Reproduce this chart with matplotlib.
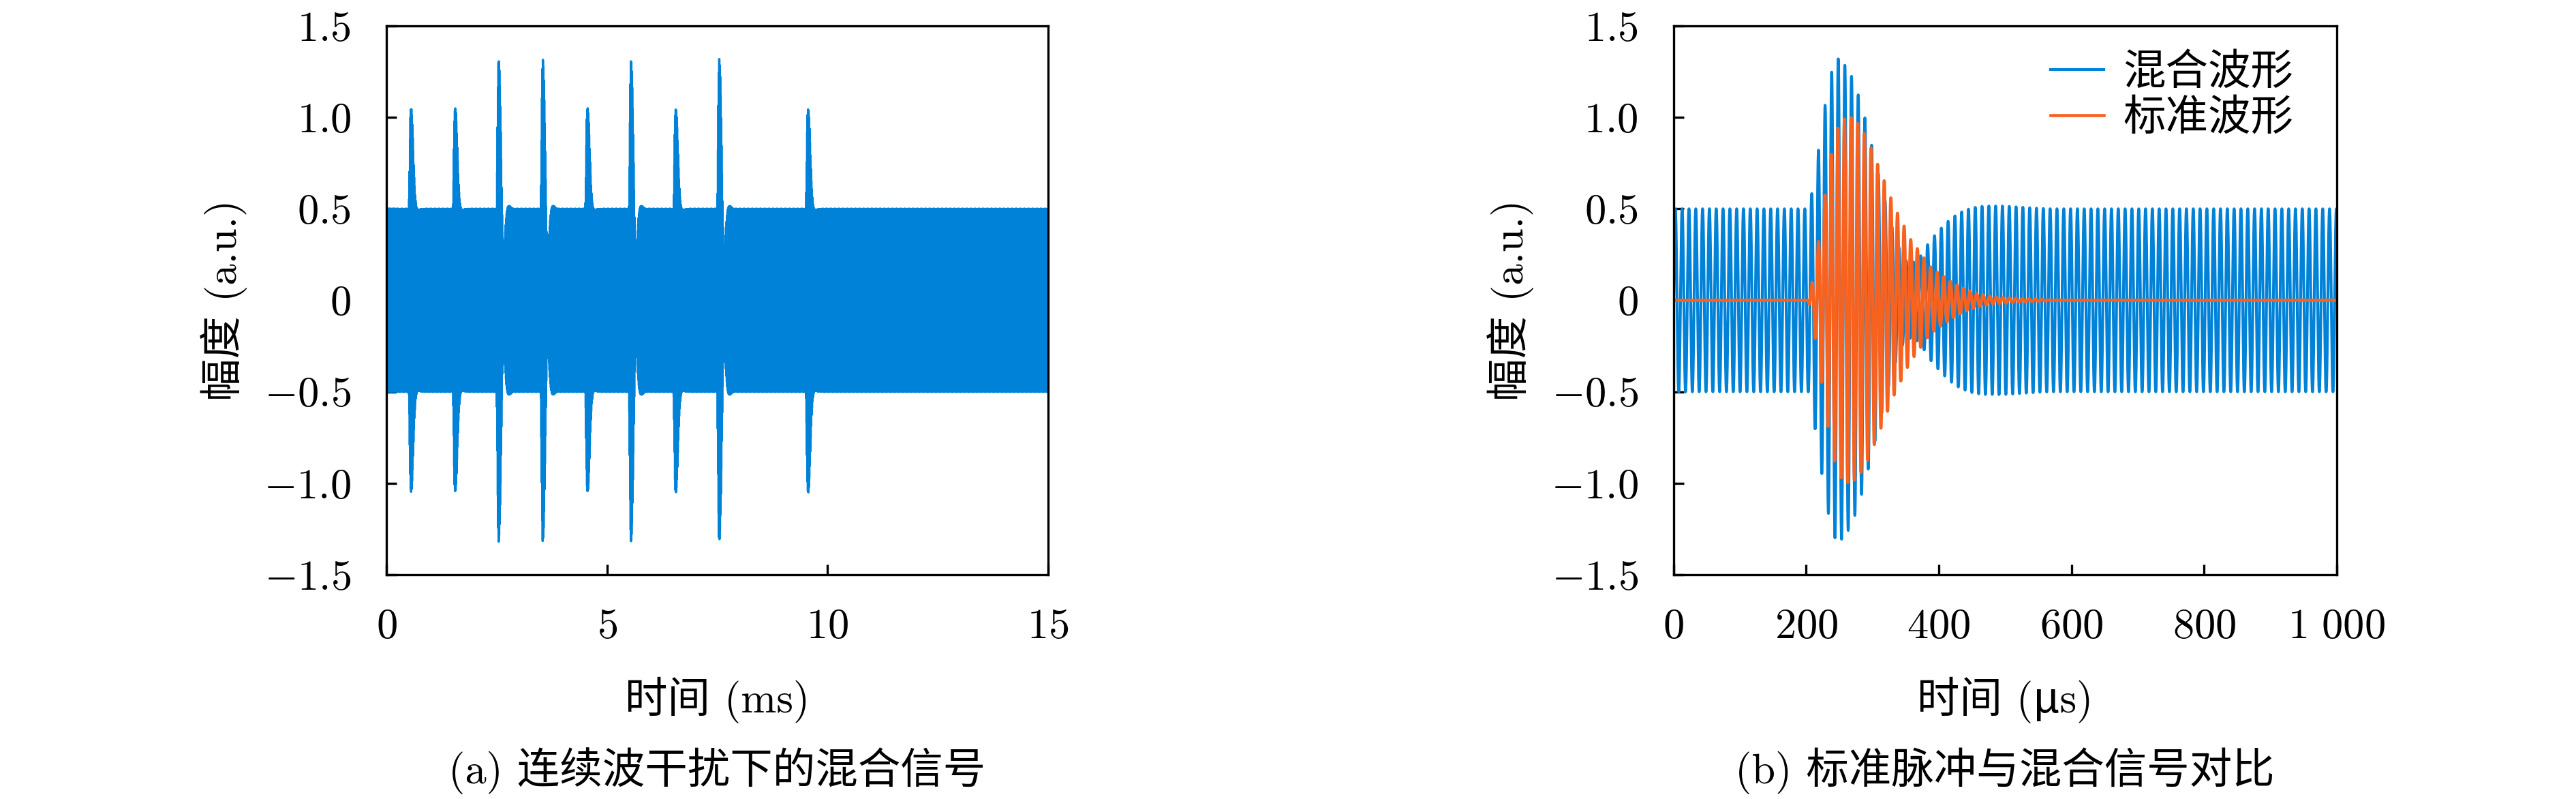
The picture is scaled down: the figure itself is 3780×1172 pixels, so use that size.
import numpy as np
import matplotlib
matplotlib.use('Agg')
import matplotlib.pyplot as plt

# --- values ---
# continuous-wave interference
cw_freq_khz = 97.3
cw_amp = 0.5

# standard pulse: envelope through the orange peaks, time after onset (us)
pulse_t_us = np.array([0, 5, 15, 25, 34, 43, 53, 64, 74, 85, 95, 105, 115, 124,
                       134, 144, 153, 163, 173, 182, 193, 204, 214, 224, 234,
                       244, 253, 277, 317, 377])
pulse_env = np.array([0.0, 0.08, 0.31, 0.57, 0.78, 0.93, 0.99, 1.0, 0.97, 0.91,
                      0.83, 0.74, 0.65, 0.565, 0.48, 0.41, 0.34, 0.29, 0.24,
                      0.19, 0.157, 0.13, 0.105, 0.083, 0.065, 0.05, 0.037, 0.02,
                      0.01, 0.0])

# phase of pulse vs. carrier (rad), worked back from the blue envelope
# of the strong (1.3) bursts, time after onset (us)
drift_t_us = np.array([0, 14, 53, 172, 240, 272, 377])
drift_rad = np.array([-0.39, 0.0, 1.1, 3.14, 4.58, 5.39, 8.0])

# (a) bursts inside 15 ms record
burst_onset_ms = [0.5, 1.5, 2.5, 3.5, 4.5, 5.5, 6.5, 7.5, 9.5]
burst_peak = [1.05, 1.05, 1.30, 1.30, 1.05, 1.30, 1.05, 1.30, 1.05]
a_span_ms = 15

# (b) one strong pulse in 1000 us window
b_onset_us = 203
b_peak = 1.30
b_span_us = 1000

y_ticks = [-1.5, -1.0, -0.5, 0, 0.5, 1.0, 1.5]
a_xticks = [0, 5, 10, 15]
b_xticks = [0, 200, 400, 600, 800, 1000]
b_xticklabels = ['0', '200', '400', '600', '800', r'1\ 000']

BLUE = '#0082d8'
ORANGE = '#f8621f'
FS = 15

plt.rcParams['mathtext.fontset'] = 'cm'
plt.rcParams['font.family'] = ['cmr10', 'Noto Sans CJK SC', 'DejaVu Sans']
plt.rcParams['axes.formatter.use_mathtext'] = True
plt.rcParams['axes.linewidth'] = 0.8


def carrier(t_us):
    return 2 * np.pi * cw_freq_khz * 1e-3 * t_us


def pulse(t_us, onset, peak_mix):
    rel = t_us - onset
    env = np.interp(rel, pulse_t_us, pulse_env, left=0, right=0)
    if peak_mix > 1.2:
        dphi = np.interp(rel, drift_t_us, drift_rad)
    else:
        # weak bursts: fixed phase giving |cw + pulse| = peak_mix at the top
        amax = pulse_env.max()
        dphi = np.arccos((peak_mix**2 - cw_amp**2 - amax**2) / (2 * cw_amp * amax))
    return env * np.sin(carrier(t_us) + dphi)


def tick_label(v):
    if v == 0:
        return '$0$'
    return '${:.1f}$'.format(v)


def style(ax):
    ax.set_ylim(-1.5, 1.5)
    ax.set_yticks(y_ticks, [tick_label(v) for v in y_ticks])
    ax.tick_params(direction='in', length=3.6, width=0.8, labelsize=FS,
                   top=False, right=False)
    ax.tick_params(axis='x', pad=12)
    ax.tick_params(axis='y', pad=12.5)
    ax.set_ylabel('幅度 (a.u.)', fontsize=FS, va='center')
    ax.yaxis.set_label_coords(-0.246, 0.5)


fig = plt.figure(figsize=(12.6, 1172 / 300))
ax1 = fig.add_axes([0.15, 0.2807, 0.2569, 0.6869])
ax2 = fig.add_axes([0.6497, 0.2807, 0.2574, 0.6869])

# --- (a) ---
t = np.arange(0, a_span_ms * 1000 + 0.25, 0.25)
mix = cw_amp * np.sin(carrier(t))
for on, pk in zip(burst_onset_ms, burst_peak):
    mix = mix + pulse(t, on * 1000, pk)
ax1.plot(t / 1000, mix, color=BLUE, lw=0.8)
ax1.set_xlim(0, a_span_ms)
ax1.set_xticks(a_xticks, ['${}$'.format(v) for v in a_xticks])
style(ax1)
ax1.set_xlabel('时间 (ms)', fontsize=FS, va='center')
ax1.xaxis.set_label_coords(0.5, -0.2286)

# --- (b) ---
tb = np.arange(0, b_span_us + 0.05, 0.05)
std = pulse(tb, b_onset_us, b_peak)
mixb = cw_amp * np.sin(carrier(tb)) + std
ax2.plot(tb, mixb, color=BLUE, lw=1.0, label='混合波形')
ax2.plot(tb, std, color=ORANGE, lw=1.1, label='标准波形')
ax2.set_xlim(0, b_span_us)
ax2.set_xticks(b_xticks, ['${}$'.format(s) for s in b_xticklabels])
style(ax2)
ax2.set_xlabel('时间 (\u03bcs)', fontsize=FS, va='center')
ax2.xaxis.set_label_coords(0.5, -0.2286)
ax2.legend(loc='upper right', bbox_to_anchor=(0.935, 0.95), frameon=False,
           fontsize=FS, handlelength=1.25, handletextpad=0.45,
           labelspacing=0.13, borderpad=0, borderaxespad=0)

for ax, cap in [(ax1, '(a) 连续波干扰下的混合信号'),
                (ax2, '(b) 标准脉冲与混合信号对比')]:
    box = ax.get_position()
    fig.text((box.x0 + box.x1) / 2, 0.035, cap, fontsize=FS,
             ha='center', va='center')

fig.savefig('out.png', dpi=300)
